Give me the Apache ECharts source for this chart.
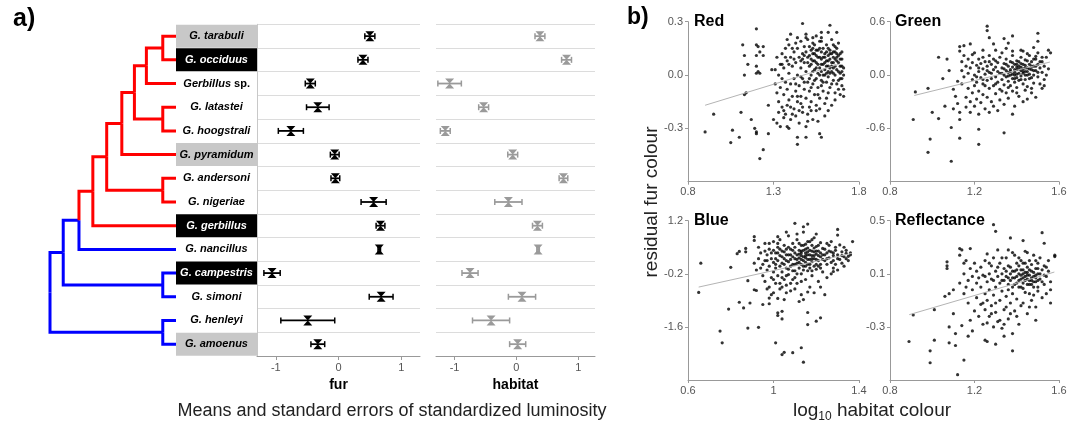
<!DOCTYPE html>
<html><head><meta charset="utf-8">
<script src="https://cdn.jsdelivr.net/npm/echarts@6/dist/echarts.min.js"></script>
<style>html,body{margin:0;padding:0;background:#fff}#c{width:1077px;height:431px}</style>
</head><body><div id="c"></div>
<script>
// ---------- panel a data ----------
const species = ['G. tarabuli','G. occiduus','Gerbillus sp.','G. latastei','G. hoogstrali','G. pyramidum','G. andersoni','G. nigeriae','G. gerbillus','G. nancillus','G. campestris','G. simoni','G. henleyi','G. amoenus'];
const labelBox = ['g','k','w','w','w','g','w','w','k','w','k','w','w','g'];
const furMean = [0.50,0.39,-0.45,-0.33,-0.76,-0.06,-0.05,0.56,0.67,0.65,-1.06,0.68,-0.49,-0.33];
const furSE   = [0.08,0.08,0.08,0.18,0.20,0.07,0.07,0.20,0.07,0.02,0.13,0.19,0.43,0.11];
const habMean = [0.38,0.81,-1.08,-0.53,-1.15,-0.06,0.76,-0.13,0.34,0.35,-0.75,0.09,-0.41,0.02];
const habSE   = [0.08,0.08,0.19,0.08,0.08,0.08,0.07,0.22,0.08,0.02,0.13,0.22,0.30,0.13];
const luminosityTicks = [-1,0,1];

// phylogeny: internal nodes (depth in tree units, tips at 10)
const nodeNames  = ['root','G','F','E','D','C','B','A','tarOcc','latHoo','andNig','camSim','henAmo'];
const nodeDepth  = [0,1.05,2.3,3.4,4.5,5.7,6.7,7.65,8.95,8.95,8.95,8.95,8.95];
const nodeParent = [null,'root','G','F','E','D','C','B','A','B','D','G','root'];
const nodeClade  = ['b','b','b','r','r','r','r','r','r','r','r','b','b'];
const tipParent  = ['tarOcc','tarOcc','A','latHoo','latHoo','C','andNig','andNig','E','F','camSim','camSim','henAmo','henAmo'];
const tipClade   = ['r','r','r','r','r','r','r','r','r','b','b','b','b','b'];
const tipDepth = 10;

// ---------- panel b data ----------
const redPts = [[0.90,-0.32],[0.95,-0.22],[1.05,-0.38],[1.06,-0.31],[1.10,-0.35],[1.11,-0.21],[1.13,-0.11],[1.14,-0.10],[1.12,0.17],[1.13,0.11],[1.13,0.00],[1.15,0.06],[1.17,-0.25],[1.19,-0.30],[1.20,-0.32],[1.20,-0.33],[1.22,-0.47],[1.24,-0.42],[1.20,0.26],[1.20,0.17],[1.21,0.16],[1.22,0.13],[1.20,0.11],[1.24,0.16],[1.24,0.11],[1.20,0.05],[1.21,0.02],[1.22,0.01],[1.20,0.01],[1.27,-0.17],[1.27,-0.33],[1.29,0.03],
[1.47,0.29],[1.63,0.28],[1.67,0.24],[1.62,0.24],[1.58,0.24],[1.68,0.18],[1.40,0.23],[1.44,0.21],[1.49,0.21],[1.53,0.21],[1.38,0.20],
[1.30,-0.25],[1.32,-0.27],[1.34,-0.29],[1.36,-0.24],[1.38,-0.29],[1.39,-0.30],[1.36,-0.20],[1.44,-0.35],[1.44,-0.39],[1.49,-0.35],[1.57,-0.33],[1.58,-0.35],[1.56,-0.26],[1.53,-0.25],[1.49,-0.29],[1.60,-0.23],[1.62,-0.20],[1.43,-0.23],[1.40,-0.18],[1.47,-0.21],[1.51,-0.18],[1.55,-0.20],
[1.31,0.03],[1.31,-0.05],[1.32,0.10],[1.32,-0.10],[1.33,0.00],[1.33,-0.15],[1.34,0.06],[1.34,-0.07],[1.35,0.12],[1.35,-0.02],[1.35,-0.18],[1.36,0.04],[1.36,-0.11],[1.37,0.15],[1.37,-0.04],[1.37,-0.22],[1.38,0.08],[1.38,-0.08],[1.39,0.01],[1.39,-0.14],[1.39,0.17],[1.40,0.10],[1.40,-0.05],[1.40,-0.25],[1.41,0.05],[1.41,-0.12],[1.42,0.13],[1.42,-0.02],[1.42,-0.19],[1.43,0.07],[1.43,-0.09],[1.44,0.15],[1.44,0.00],[1.44,-0.15],[1.45,0.10],[1.45,-0.06],[1.45,-0.27],[1.46,0.04],[1.46,-0.12],[1.46,0.19],[1.47,-0.02],[1.47,0.12],[1.47,-0.18],[1.48,0.07],[1.48,-0.08],[1.48,0.16],[1.49,0.02],[1.49,-0.13],[1.50,0.10],[1.50,-0.04],[1.50,0.20],[1.50,-0.22],
[1.51,0.05],[1.51,-0.09],[1.52,0.14],[1.52,0.00],[1.52,-0.15],[1.53,0.08],[1.53,-0.05],[1.53,0.18],[1.54,0.03],[1.54,-0.11],[1.54,0.12],[1.55,-0.02],[1.55,0.07],[1.55,0.22],[1.56,0.10],[1.56,-0.07],[1.56,0.01],[1.57,0.15],[1.57,0.04],[1.57,-0.13],[1.58,0.09],[1.58,-0.03],[1.58,0.19],[1.59,0.06],[1.59,0.00],[1.59,-0.09],[1.60,0.12],[1.60,0.03],[1.60,-0.16],[1.61,0.08],[1.61,-0.04],[1.61,0.17],[1.62,0.05],[1.62,0.11],[1.62,-0.01],[1.63,0.09],[1.63,-0.07],[1.63,0.14],[1.64,0.02],[1.64,0.07],[1.64,0.20],[1.65,0.10],[1.65,-0.03],[1.65,0.04],[1.66,0.13],[1.66,0.00],[1.66,-0.10],[1.67,0.08],[1.67,0.15],[1.67,-0.05],[1.68,0.02],[1.68,0.11],[1.68,-0.08],[1.69,0.05],[1.69,-0.02],[1.70,0.09],[1.70,-0.06],[1.70,0.02],[1.71,-0.12],[1.71,0.04],
[1.52,0.06],[1.55,0.11],[1.57,0.00],[1.58,0.13],[1.60,0.07],[1.62,0.02],[1.63,0.04],[1.64,0.12],[1.65,0.07],[1.66,0.05],[1.61,0.01],[1.59,0.10],[1.56,0.14],[1.54,0.08],[1.67,0.10],[1.69,0.12],[1.53,0.12],[1.48,0.11],[1.46,0.08],[1.51,0.16],[1.58,-0.06],[1.62,-0.10],[1.66,-0.14],[1.55,-0.17],[1.50,-0.26],[1.45,-0.20],[1.41,-0.22],[1.43,0.18],[1.49,0.23],[1.58,0.21],[1.65,0.17],[1.70,-0.02],[1.71,-0.08],[1.69,-0.11],
[1.46,-0.01],[1.47,0.09],[1.48,-0.04],[1.49,0.13],[1.50,0.07],[1.51,0.11],[1.51,-0.02],[1.52,0.09],[1.52,-0.07],[1.53,0.02],[1.53,0.15],[1.54,-0.03],[1.54,0.17],[1.55,0.04],[1.55,0.14],[1.56,0.06],[1.56,-0.11],[1.57,0.10],[1.57,0.19],[1.58,0.02],[1.58,0.06],[1.59,0.15],[1.59,-0.04],[1.60,0.10],[1.60,0.00],[1.61,0.13],[1.61,0.05],[1.62,0.08],[1.62,0.15],[1.63,0.01],[1.63,0.12],[1.64,0.05],[1.64,-0.05],[1.65,0.13],[1.65,0.01],[1.66,0.09],[1.66,0.16],[1.67,0.03],[1.67,0.12],[1.68,0.07],[1.68,-0.03],[1.69,0.09],[1.69,0.01],[1.70,0.13],[1.70,0.05],[1.71,0.00],[1.42,0.09],[1.43,-0.05],[1.41,0.15],[1.39,0.06],[1.37,0.10],[1.35,0.06],[1.33,-0.21],[1.38,-0.17],[1.44,-0.12],[1.46,-0.16],[1.52,-0.20],[1.57,-0.19],[1.61,-0.13],[1.64,-0.17]];
const redFit = [[0.90,-0.17],[1.68,0.06]];

const greenPts = [[0.91,-0.50],[0.92,-0.19],[0.98,-0.15],[0.99,-0.72],[0.98,-0.87],[1.00,-0.42],[1.03,-0.49],[1.03,0.20],[1.05,-0.04],[1.06,-0.35],[1.07,0.18],[1.08,0.05],[1.09,-0.59],[1.09,-0.97],[1.10,-0.38],[1.11,-0.24],[1.10,-0.16],[1.12,-0.07],[1.13,-0.71],[1.13,-0.50],[1.13,-0.42],[1.12,-0.32],[1.22,-0.61],[1.22,-0.78],[1.34,-0.65],[1.38,-0.44],
[1.26,0.55],[1.26,0.50],[1.50,0.47],[1.50,0.38],[1.55,0.28],[1.56,0.25],[1.52,-0.15],[1.45,-0.27],[1.47,-0.15],[1.13,0.32],[1.13,0.27],[1.15,0.33],[1.18,0.35],[1.19,0.23],[1.24,0.28],[1.27,0.42],[1.29,0.35],[1.34,0.41],[1.38,0.44],[1.36,0.36],[1.38,0.27],[1.43,0.27],[1.48,0.31],[1.49,0.21],
[1.14,0.15],[1.14,0.05],[1.14,-0.10],[1.15,0.22],[1.15,-0.02],[1.16,0.10],[1.16,-0.25],[1.16,-0.36],[1.17,0.18],[1.17,0.02],[1.17,-0.15],[1.18,0.08],[1.18,-0.30],[1.18,-0.42],[1.19,0.14],[1.19,-0.05],[1.19,-0.20],[1.20,0.25],[1.20,0.00],[1.20,-0.12],[1.20,-0.35],[1.21,0.11],[1.21,-0.27],[1.21,-0.08],[1.22,0.18],[1.22,0.04],[1.22,-0.18],[1.22,-0.44],[1.23,-0.03],[1.23,0.13],[1.23,-0.31],[1.24,0.07],[1.24,-0.10],[1.24,0.20],[1.24,-0.22],[1.25,0.01],[1.25,-0.38],[1.25,0.15],
[1.26,-0.06],[1.26,0.10],[1.26,-0.25],[1.27,0.22],[1.27,0.03],[1.27,-0.15],[1.27,-0.42],[1.28,0.12],[1.28,-0.04],[1.28,-0.30],[1.29,0.18],[1.29,0.06],[1.29,-0.12],[1.29,-0.35],[1.30,0.28],[1.30,-0.02],[1.30,0.09],[1.30,-0.21],[1.31,0.14],[1.31,-0.08],[1.31,-0.40],[1.32,0.02],[1.32,0.20],[1.32,-0.16],[1.32,-0.28],[1.33,0.08],[1.33,-0.05],[1.33,0.25],[1.34,0.00],[1.34,0.13],[1.34,-0.11],[1.34,-0.33],[1.35,0.05],[1.35,-0.02],[1.35,0.18],[1.35,-0.20],[1.36,0.10],[1.36,-0.07],[1.36,0.03],[1.36,-0.26],[1.37,0.15],[1.37,0.00],[1.37,-0.12],[1.37,0.06],[1.38,0.22],[1.38,-0.04],[1.38,0.09],[1.38,-0.18],
[1.39,0.03],[1.39,0.12],[1.39,-0.08],[1.39,0.00],[1.40,0.06],[1.40,-0.03],[1.40,0.16],[1.40,-0.14],[1.40,0.09],[1.41,0.02],[1.41,0.10],[1.41,-0.06],[1.41,-0.24],[1.42,0.05],[1.42,0.13],[1.42,-0.01],[1.42,0.20],[1.43,0.07],[1.43,-0.10],[1.43,0.02],[1.43,-0.30],[1.44,0.11],[1.44,0.04],[1.44,-0.05],[1.44,0.17],[1.45,0.08],[1.45,-0.13],[1.45,0.00],
[1.46,0.12],[1.46,-0.04],[1.46,0.22],[1.47,0.06],[1.47,-0.20],[1.47,0.15],[1.48,0.00],[1.48,0.10],[1.48,-0.09],[1.49,0.18],[1.49,0.05],[1.49,-0.25],[1.50,0.12],[1.50,-0.02],[1.50,0.25],[1.51,0.08],[1.51,-0.10],[1.52,0.15],[1.52,0.03],[1.53,0.10],[1.53,-0.05],[1.54,0.20],[1.54,0.00],[1.55,0.07],
[1.33,0.02],[1.34,0.07],[1.35,0.12],[1.36,-0.01],[1.37,0.04],[1.38,0.01],[1.38,0.14],[1.39,0.06],[1.39,-0.04],[1.40,0.12],[1.40,0.01],[1.41,0.07],[1.41,0.15],[1.42,0.09],[1.42,-0.05],[1.43,0.12],[1.43,0.04],[1.44,0.00],[1.44,0.08],[1.45,0.04],[1.45,0.16],[1.46,0.07],[1.46,0.01],[1.47,0.10],[1.47,-0.03],[1.48,0.05],[1.48,0.18],[1.49,0.10],[1.50,0.03],[1.51,0.15],[1.31,0.04],[1.30,-0.10],[1.28,0.02],[1.26,0.05],[1.24,-0.05],[1.22,0.08],[1.21,-0.02],[1.25,-0.12],[1.33,-0.18],[1.36,-0.14],[1.40,-0.20],[1.44,-0.17],[1.30,0.16],[1.27,0.15],[1.35,0.30],[1.42,0.28],[1.45,0.24],[1.52,0.20],[1.53,-0.12],[1.39,-0.35]];
const greenFit = [[0.915,-0.23],[1.557,0.146]];

const bluePts = [[0.65,-0.69],[0.66,0.08],[0.75,-1.71],[0.76,-2.02],[0.79,-1.13],[0.80,-0.03],[0.84,-0.95],[0.86,-1.10],[0.88,-0.38],[0.88,-1.63],[0.89,-0.97],[0.91,-0.62],[0.92,-0.64],[0.93,-1.61],[0.83,0.33],[0.84,0.39],[0.87,0.47],[0.87,0.38],[0.91,0.78],[0.91,0.68],[0.91,0.08],[0.92,-0.10],[0.95,-1.01],[0.98,-0.99],[0.98,-0.84],[1.01,-2.02],[1.02,-1.23],[1.02,-1.30],[1.04,-1.19],[1.04,-1.39],[1.05,-0.88],[1.04,-2.33],[1.05,-2.27],[1.09,-2.28],[1.13,-2.15],[1.14,-2.53],[1.12,-0.93],[1.14,-0.88],[1.16,-1.22],[1.16,-1.54],[1.20,-1.45],[1.22,-1.36],[1.24,-0.75],[1.10,1.13],[1.16,1.11],[1.14,1.04],[1.02,0.78],[1.30,0.97],[1.30,0.82],[1.37,0.65],[1.27,0.65],[1.31,0.56],[1.35,0.26],[1.34,0.34],[1.28,-0.05],[1.28,-0.14],[1.23,0.47],
[0.93,0.50],[0.93,0.20],[0.94,-0.05],[0.94,0.35],[0.95,0.05],[0.95,-0.25],[0.96,0.60],[0.96,0.15],[0.96,-0.40],[0.97,0.30],[0.97,-0.10],[0.98,0.45],[0.98,0.00],[0.98,-0.55],[0.99,0.20],[0.99,-0.30],[1.00,0.65],[1.00,0.10],[1.00,-0.15],[1.00,-0.70],[1.01,0.35],[1.01,-0.05],[1.01,-0.45],[1.02,0.50],[1.02,0.15],[1.02,-0.25],[1.03,0.00],[1.03,0.70],[1.03,-0.60],[1.03,0.28],[1.04,-0.15],[1.04,0.40],[1.04,0.08],[1.05,-0.35],[1.05,0.20],[1.05,0.55],[1.06,-0.05],[1.06,0.30],[1.06,-0.50],[1.07,0.12],[1.07,0.80],[1.07,-0.22],[1.08,0.45],[1.08,0.00],[1.08,-0.65],[1.09,0.25],[1.09,-0.12],[1.09,0.60],[1.10,0.05],[1.10,0.35],[1.10,-0.30],[1.11,0.18],[1.11,0.70],[1.11,-0.45],[1.12,0.42],[1.12,-0.05],[1.12,0.10],[1.13,0.28],[1.13,-0.20],[1.13,0.55],[1.14,0.15],[1.14,0.00],[1.14,0.90],[1.15,0.35],[1.15,-0.35],[1.15,0.22],[1.16,0.05],[1.16,0.48],[1.16,-0.12],[1.17,0.30],[1.17,0.65],[1.17,-0.55],[1.18,0.12],[1.18,0.40],[1.18,-0.25],[1.19,0.20],[1.19,0.00],[1.19,0.75],[1.20,0.32],[1.20,-0.08],[1.20,0.52],[1.21,0.15],[1.21,-0.40],[1.21,0.40],[1.22,0.25],[1.22,0.05],[1.22,0.62],[1.23,-0.15],[1.23,0.30],[1.24,0.15],[1.24,0.45],[1.25,0.05],[1.25,0.35],[1.25,-0.30],[1.26,0.22],[1.26,0.55],[1.27,0.10],[1.27,0.38],[1.28,0.28],[1.28,0.15],[1.29,0.42],[1.29,0.05],[1.30,0.30],[1.31,0.18],[1.32,0.38],[1.32,0.08],[1.33,0.25],[1.34,0.42],[1.35,0.15],[1.36,0.35],[1.36,0.30],
[1.12,0.32],[1.13,0.40],[1.14,0.25],[1.15,0.45],[1.16,0.30],[1.17,0.18],[1.18,0.28],[1.19,0.38],[1.15,0.10],[1.17,0.05],[1.13,0.18],[1.11,0.30],[1.10,0.20],[1.09,0.42],[1.08,0.30],[1.06,0.15],[1.05,0.38],[1.04,0.25],[1.03,0.45],[1.02,0.35],[1.01,0.20],[1.00,0.42],[1.07,0.50],[1.18,0.55],[1.20,0.18],[1.21,0.28],[1.16,0.65],[1.14,0.55],
[0.99,-0.75],[1.02,-0.85],[1.06,-0.70],[1.10,-0.60],[1.13,-0.75],[1.16,-0.68],[1.19,-0.70],[1.22,-0.55],[1.08,-0.45],[1.04,-0.55],[0.97,-0.60],[1.27,-0.20],[1.30,-0.10],[1.33,0.00],
[1.05,0.05],[1.06,0.45],[1.07,-0.08],[1.08,0.18],[1.09,0.05],[1.10,0.50],[1.10,-0.12],[1.11,0.08],[1.12,0.22],[1.12,0.60],[1.13,0.05],[1.13,0.35],[1.14,0.42],[1.14,-0.10],[1.15,0.28],[1.15,0.58],[1.16,0.18],[1.16,0.38],[1.17,0.42],[1.17,-0.05],[1.18,0.20],[1.18,0.70],[1.19,0.28],[1.19,0.48],[1.20,0.05],[1.20,0.40],[1.21,0.55],[1.22,0.35],[1.22,-0.05],[1.23,0.18],[1.24,0.30],[1.25,0.20],[1.26,0.40],[1.02,0.60],[1.01,0.05],[0.99,0.35],[0.98,0.60],[0.97,0.15],[0.96,0.40],[1.04,-0.30],[1.06,-0.25],[1.09,-0.35],[1.11,-0.20],[1.13,-0.40],[1.03,-0.45],[1.00,-0.35],[1.07,0.30],[1.15,0.00],[1.18,-0.12],[1.21,0.00],[1.28,0.35],[1.30,0.20],[1.32,0.28],[1.34,0.20],[1.29,0.50],[1.33,0.50],[1.25,0.60],[1.11,0.85],[1.06,0.90],[1.20,0.85]];
const blueFit = [[0.65,-0.55],[1.367,0.34]];

const reflPts = [[0.89,-0.41],[0.91,-0.21],[0.99,-0.57],[0.99,-0.48],[1.01,-0.17],[1.01,-0.40],[1.06,-0.07],[1.07,0.19],[1.07,0.16],[1.07,0.14],[1.08,-0.05],[1.08,-0.30],[1.08,-0.42],[1.10,-0.02],[1.10,-0.20],[1.11,-0.35],[1.11,-0.44],[1.12,-0.66],[1.13,0.03],[1.13,0.29],[1.13,0.24],[1.14,0.28],[1.15,0.18],[1.14,-0.29],[1.15,-0.55],[1.17,-0.37],[1.18,0.29],[1.29,0.47],[1.30,0.42],[1.37,0.37],[1.43,0.35],[1.52,0.41],[1.53,0.33],[1.58,0.24],[1.58,0.23],[1.30,-0.43],[1.38,-0.48],[1.19,-0.33],[1.25,-0.40],[1.26,-0.41],[1.34,-0.37],[1.38,-0.35],[1.41,-0.28],[1.49,-0.25],[1.56,-0.12],[1.56,-0.02],
[1.15,0.10],[1.15,-0.05],[1.16,0.00],[1.16,0.20],[1.17,0.05],[1.17,-0.12],[1.18,0.14],[1.18,-0.25],[1.19,0.08],[1.19,-0.02],[1.20,0.18],[1.20,-0.18],[1.21,0.03],[1.21,-0.08],[1.21,0.12],[1.22,-0.22],[1.22,0.07],[1.23,-0.13],[1.23,0.15],[1.23,0.00],[1.24,-0.28],[1.24,0.09],[1.25,-0.05],[1.25,0.20],[1.25,-0.17],
[1.26,0.04],[1.26,-0.10],[1.26,0.25],[1.27,0.10],[1.27,-0.22],[1.27,-0.02],[1.28,0.16],[1.28,-0.14],[1.28,0.06],[1.29,-0.06],[1.29,0.22],[1.29,-0.30],[1.30,0.00],[1.30,0.12],[1.30,-0.19],[1.31,0.08],[1.31,-0.26],[1.31,0.28],[1.32,0.03],[1.32,-0.10],[1.32,0.18],[1.33,0.10],[1.33,-0.03],[1.33,-0.31],[1.34,0.14],[1.34,0.05],[1.34,-0.17],[1.35,0.22],[1.35,-0.07],[1.35,0.08],[1.36,0.02],[1.36,0.16],[1.36,-0.24],[1.37,0.10],[1.37,-0.12],[1.37,0.05],[1.38,0.26],[1.38,0.00],[1.38,-0.05],[1.39,0.12],[1.39,0.07],[1.39,-0.18],[1.40,0.18],[1.40,0.03],[1.40,-0.09],
[1.41,0.10],[1.41,0.05],[1.41,0.22],[1.42,0.00],[1.42,0.13],[1.42,-0.14],[1.43,0.07],[1.43,0.18],[1.43,0.03],[1.44,0.11],[1.44,-0.04],[1.44,0.27],[1.45,0.06],[1.45,0.15],[1.45,-0.20],[1.46,0.09],[1.46,0.02],[1.46,0.20],[1.47,0.05],[1.47,0.12],[1.47,-0.10],[1.48,0.08],[1.48,0.24],[1.48,0.00],[1.49,0.14],[1.49,0.04],[1.49,-0.15],[1.50,0.10],[1.50,0.18],[1.50,-0.03],
[1.51,0.06],[1.51,0.22],[1.52,0.13],[1.52,-0.08],[1.53,0.02],[1.53,0.16],[1.54,0.08],[1.54,-0.05],[1.55,0.12],[1.55,0.20],[1.56,0.04],
[1.44,0.08],[1.46,0.05],[1.45,0.11],[1.42,0.06],[1.47,0.07],[1.43,0.10],[1.48,0.04],[1.40,0.08],[1.38,0.12],[1.36,0.07],[1.49,0.09],[1.50,0.05],
[1.33,0.05],[1.35,0.12],[1.36,-0.02],[1.37,0.15],[1.38,0.07],[1.39,0.02],[1.40,0.13],[1.41,0.00],[1.41,0.16],[1.42,0.09],[1.42,0.20],[1.43,-0.01],[1.43,0.13],[1.44,0.05],[1.44,0.18],[1.45,0.02],[1.45,0.09],[1.46,0.13],[1.46,-0.05],[1.47,0.02],[1.47,0.17],[1.48,0.11],[1.48,-0.06],[1.49,0.07],[1.49,0.20],[1.50,0.00],[1.50,0.14],[1.51,0.10],[1.52,0.04],[1.53,0.09],[1.54,0.15],[1.31,0.15],[1.29,0.05],[1.27,0.18],[1.25,0.08],[1.24,-0.12],[1.28,-0.20],[1.32,-0.25],[1.35,-0.15],[1.37,-0.20],[1.40,-0.22],[1.43,-0.12],[1.46,-0.15],[1.39,0.24],[1.45,0.26],[1.36,0.28],[1.33,0.22],[1.30,-0.12],[1.26,-0.27],[1.34,-0.28]];
const reflFit = [[0.891,-0.208],[1.578,0.113]];

const redXTicks = [0.8,1.3,1.8],   redYTicks = [-0.3,0.0,0.3];
const greenXTicks = [0.8,1.2,1.6], greenYTicks = [-0.6,0.0,0.6];
const blueXTicks = [0.6,1.0,1.4],  blueYTicks = [-1.6,-0.2,1.2];
const reflXTicks = [0.8,1.2,1.6],  reflYTicks = [-0.3,0.1,0.5];

// ---------- build ----------
const FONT = "'Liberation Sans', Arial, sans-serif";
const cladeColor = {r:'#ff0000', b:'#0000ff'};
const nodeIdx = n => nodeNames.indexOf(n);
const yCache = {};
function nodeY(n){
  if (yCache[n] !== undefined) return yCache[n];
  const ys = [];
  tipParent.forEach((p,i)=>{ if(p===n) ys.push(i); });
  nodeParent.forEach((p,i)=>{ if(p===n) ys.push(nodeY(nodeNames[i])); });
  yCache[n] = (Math.min(...ys)+Math.max(...ys))/2;
  return yCache[n];
}
const treeSegs = [];
tipParent.forEach((p,i)=>{
  const px = nodeDepth[nodeIdx(p)], py = nodeY(p);
  treeSegs.push([px,py,px,i,tipDepth,i,tipClade[i]==='r'?0:1]);
});
nodeParent.forEach((p,i)=>{
  if(!p) return;
  const px = nodeDepth[nodeIdx(p)], py = nodeY(p), cy = nodeY(nodeNames[i]);
  treeSegs.push([px,py,px,cy,nodeDepth[i],cy,nodeClade[i]==='r'?0:1]);
});
const furData = furMean.map((m,i)=>[m,m-furSE[i],m+furSE[i],i]);
const habData = habMean.map((m,i)=>[m,m-habSE[i],m+habSE[i],i]);

function errRender(color){
  return function(params, api){
    const row = api.value(3);
    const c = api.coord([api.value(0), row]);
    const l = api.coord([api.value(1), row]);
    const h = api.coord([api.value(2), row]);
    const cy = c[1], w = 4.5, hh = 5, cap = 3;
    return {type:'group', children:[
      {type:'line', shape:{x1:l[0],y1:cy,x2:h[0],y2:cy}, style:{stroke:color,lineWidth:1.8}},
      {type:'line', shape:{x1:l[0],y1:cy-cap,x2:l[0],y2:cy+cap}, style:{stroke:color,lineWidth:1.5}},
      {type:'line', shape:{x1:h[0],y1:cy-cap,x2:h[0],y2:cy+cap}, style:{stroke:color,lineWidth:1.5}},
      {type:'polygon', shape:{points:[[c[0]-w,cy-hh],[c[0]+w,cy-hh],[c[0],cy],[c[0]+w,cy+hh],[c[0]-w,cy+hh],[c[0],cy]]}, style:{fill:color}}
    ]};
  };
}

const boxBase = {width:81, height:23, lineHeight:23, align:'center', fontStyle:'italic', fontWeight:'bold', fontSize:11, fontFamily:FONT};
const rich = {
  w: Object.assign({}, boxBase, {color:'#000'}),
  g: Object.assign({}, boxBase, {color:'#000', backgroundColor:'#c8c8c8'}),
  k: Object.assign({}, boxBase, {color:'#fff', backgroundColor:'#000'}),
  gen: {fontStyle:'italic', fontWeight:'bold', fontSize:11, fontFamily:FONT, color:'#000', lineHeight:23},
  sp: {fontStyle:'normal', fontWeight:'bold', fontSize:11, fontFamily:FONT, color:'#000', lineHeight:23, padding:[0,7,0,0]}
};
function speciesLabel(v, i){
  if (v === 'Gerbillus sp.') return '{gen|Gerbillus}{sp| sp.}';
  return '{' + labelBox[i] + '|' + v + '}';
}

const grids = [
  {left:50, top:24.3, width:126, height:331.7},
  {left:257, top:24.3, width:163, height:331.7},
  {left:436, top:24.3, width:159, height:331.7},
  {left:688, top:21.7, width:171, height:160},
  {left:890, top:21.7, width:169, height:160},
  {left:688, top:220.7, width:171, height:159.3},
  {left:890, top:220.7, width:169, height:159.3}
];

function lumX(gi, min, max, name){
  return {type:'value', gridIndex:gi, min:min, max:max,
    axisLine:{show:true, onZero:false, lineStyle:{color:'#999', width:1}},
    axisTick:{show:true, customValues:luminosityTicks, length:4, lineStyle:{color:'#999'}},
    axisLabel:{customValues:luminosityTicks, color:'#555', fontSize:11, fontFamily:FONT, margin:6},
    splitLine:{show:false},
    name:name, nameLocation:'middle', nameGap:16,
    nameTextStyle:{color:'#000', fontWeight:'bold', fontSize:14, fontFamily:FONT}};
}
function catY(gi, showLabels){
  return {type:'category', gridIndex:gi, data:species, inverse:true,
    axisLine:{show:showLabels, onZero:false, lineStyle:{color:'#c8c8c8'}},
    axisTick:{show:false},
    splitLine:{show:true, lineStyle:{color:'#dcdcdc', width:1}},
    axisLabel: showLabels ? {show:true, margin:0, formatter:speciesLabel, rich:rich} : {show:false}};
}
function scX(gi, min, max, ticks){
  return {type:'value', gridIndex:gi, min:min, max:max,
    axisLine:{show:true, onZero:false, lineStyle:{color:'#999'}},
    axisTick:{show:true, customValues:ticks, length:3, lineStyle:{color:'#999'}},
    axisLabel:{customValues:ticks, color:'#555', fontSize:11, fontFamily:FONT, margin:5},
    splitLine:{show:false}};
}
function scY(gi, min, max, ticks){
  return {type:'value', gridIndex:gi, min:min, max:max,
    axisLine:{show:true, onZero:false, lineStyle:{color:'#999'}},
    axisTick:{show:true, customValues:ticks, length:3, lineStyle:{color:'#999'}},
    axisLabel:{customValues:ticks, color:'#555', fontSize:11, fontFamily:FONT, margin:5, formatter:v=>v.toFixed(1)},
    splitLine:{show:false}};
}

const xAxes = [
  {type:'value', gridIndex:0, min:0, max:tipDepth, show:false},
  lumX(1,-1.3,1.3,'fur'),
  lumX(2,-1.3,1.27,'habitat'),
  scX(3,0.8,1.8,redXTicks),
  scX(4,0.8,1.6,greenXTicks),
  scX(5,0.6,1.4,blueXTicks),
  scX(6,0.8,1.6,reflXTicks)
];
const yAxes = [
  {type:'value', gridIndex:0, min:-0.5, max:species.length-0.5, inverse:true, show:false},
  catY(1,true),
  catY(2,false),
  scY(3,-0.6,0.3,redYTicks),
  scY(4,-1.2,0.6,greenYTicks),
  scY(5,-3.0,1.2,blueYTicks),
  scY(6,-0.7,0.5,reflYTicks)
];

function scatterSeries(i, pts, fit){
  return [
    {type:'scatter', xAxisIndex:i, yAxisIndex:i, data:pts, symbolSize:3.2, itemStyle:{color:'#000'}, silent:true},
    {type:'line', xAxisIndex:i, yAxisIndex:i, data:fit, showSymbol:false, symbol:'none', lineStyle:{color:'#b4b4b4', width:1}, silent:true}
  ];
}

const series = [
  {type:'custom', xAxisIndex:0, yAxisIndex:0, data:treeSegs, silent:true,
   renderItem:function(params, api){
     const p0 = api.coord([api.value(0),api.value(1)]);
     const p1 = api.coord([api.value(2),api.value(3)]);
     const p2 = api.coord([api.value(4),api.value(5)]);
     return {type:'polyline', shape:{points:[p0,p1,p2]}, style:{stroke: api.value(6)===0?cladeColor.r:cladeColor.b, lineWidth:3, fill:null, lineJoin:'miter', lineCap:'butt'}};
   }},
  {type:'custom', xAxisIndex:1, yAxisIndex:1, data:furData, encode:{x:[0,1,2], y:3}, renderItem:errRender('#000'), silent:true},
  {type:'custom', xAxisIndex:2, yAxisIndex:2, data:habData, encode:{x:[0,1,2], y:3}, renderItem:errRender('#9a9a9a'), silent:true}
].concat(scatterSeries(3, redPts, redFit), scatterSeries(4, greenPts, greenFit), scatterSeries(5, bluePts, blueFit), scatterSeries(6, reflPts, reflFit));

const txt = (x,y,text,opt)=>Object.assign({type:'text', x:x, y:y, silent:true, style:Object.assign({text:text, fontFamily:FONT, fill:'#000'}, opt||{})});
const graphic = [
  txt(13,7,'a)',{fontSize:25, fontWeight:'bold'}),
  txt(627,6,'b)',{fontSize:23, fontWeight:'bold'}),
  txt(694,14,'Red',{fontSize:16, fontWeight:'bold'}),
  txt(895,14,'Green',{fontSize:16, fontWeight:'bold'}),
  txt(694,213,'Blue',{fontSize:16, fontWeight:'bold'}),
  txt(895,213,'Reflectance',{fontSize:16, fontWeight:'bold'}),
  Object.assign(txt(652,202,'residual fur colour',{fontSize:19, fill:'#222', align:'center', verticalAlign:'middle'}), {rotation:Math.PI/2}),
  txt(872,411,'log{sub|10} habitat colour',{fontSize:19, fill:'#222', align:'center', verticalAlign:'middle', lineHeight:24,
     rich:{sub:{fontSize:12, fontFamily:FONT, fill:'#222', lineHeight:12, verticalAlign:'bottom'}}}),
  txt(392,411,'Means and standard errors of standardized luminosity',{fontSize:18, fill:'#222', align:'center', verticalAlign:'middle'})
];

const chart = echarts.init(document.getElementById('c'), null, {renderer:'canvas'});
chart.setOption({animation:false, backgroundColor:'#fff', grid:grids, xAxis:xAxes, yAxis:yAxes, series:series, graphic:graphic});
</script></body></html>
